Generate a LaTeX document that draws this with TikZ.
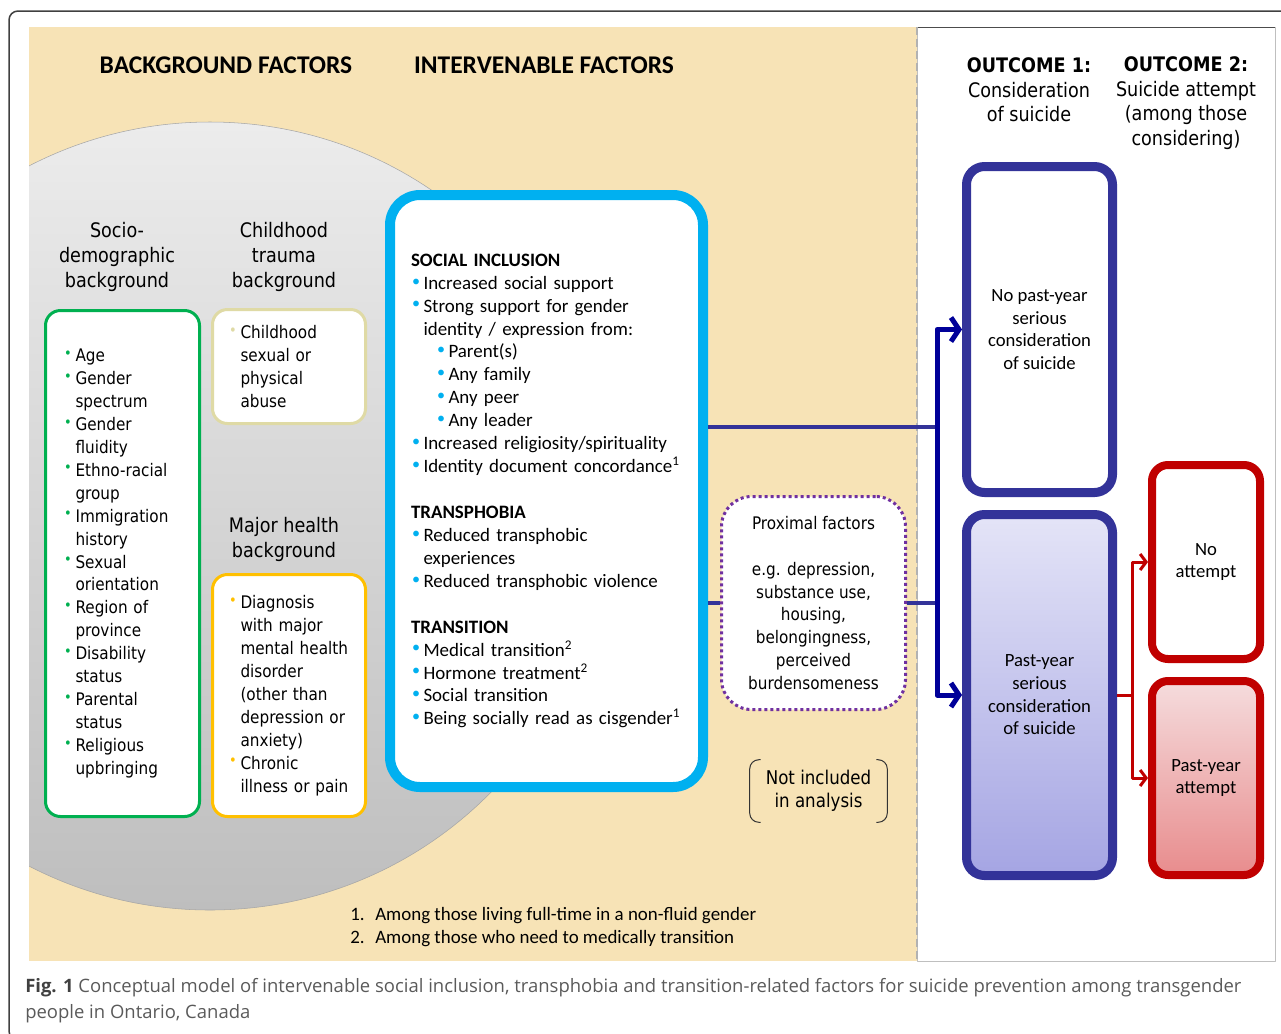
\documentclass[tikz,border=0pt]{standalone}
\usepackage{graphicx}
\usepackage{fontspec}
\setmainfont{Carlito}
\newfontfamily\tahoma[FakeStretch=0.88]{DejaVu Sans}
\newfontfamily\capfont{Open Sans}
\usetikzlibrary{positioning, arrows.meta}

\newdimen\pxu \pxu=0.75pt

\definecolor{beige}{RGB}{247,227,182}
\definecolor{circtop}{RGB}{236,236,236}
\definecolor{circbot}{RGB}{190,190,190}
\definecolor{bggreen}{RGB}{0,176,80}
\definecolor{bgtan}{RGB}{223,218,165}
\definecolor{bgyellow}{RGB}{255,192,0}
\definecolor{ifcyan}{RGB}{0,176,240}
\definecolor{proxpurple}{RGB}{112,48,160}
\definecolor{outnavy}{RGB}{51,51,153}
\definecolor{arrownavy}{RGB}{0,0,153}
\definecolor{outred}{RGB}{192,0,0}
\definecolor{pasttop}{RGB}{228,228,247}
\definecolor{pastbot}{RGB}{165,165,227}
\definecolor{atttop}{RGB}{245,220,221}
\definecolor{attbot}{RGB}{232,140,141}
\definecolor{capgray}{RGB}{90,90,90}

\newcommand\bul[1]{\makebox[12.5\pxu][l]{\hspace*{1\pxu}\textcolor{#1}{\raisebox{0.35ex}{\scalebox{0.85}{\textbullet}}}}}
\newcommand\ind{\hspace*{12.5\pxu}}

\begin{document}
\begin{tikzpicture}[x=0.75pt, y=-0.75pt, line join=round]
        \tikzset{
          heading/.style={font=\fontsize{19.1}{23}\selectfont\bfseries},
          subhead/.style={font=\tahoma\fontsize{15}{18.75}\selectfont, align=center},
          outhead/.style={font=\tahoma\fontsize{15}{18.4}\selectfont, align=center},
          bgbox/.style={draw, rounded corners=15\pxu, line width=3\pxu, fill=white, inner sep=0pt,
            align=left, font=\tahoma\fontsize{13}{17.2}\selectfont},
          ifbox/.style={draw=ifcyan, rounded corners=30\pxu, line width=10\pxu, fill=white, inner sep=0pt,
            align=left, font=\fontsize{14.2}{17.2}\selectfont},
          proxbox/.style={draw=proxpurple, dash pattern=on 3\pxu off 3\pxu, line width=3\pxu,
            rounded corners=30\pxu, fill=white, inner sep=0pt, align=center,
            font=\tahoma\fontsize{13}{17.2}\selectfont},
          outbox/.style={draw=outnavy, line width=9\pxu, rounded corners=18\pxu, fill=white,
            minimum width=146\pxu, align=center, font=\fontsize{14}{17}\selectfont},
          attbox/.style={draw=outred, line width=8\pxu, rounded corners=16\pxu, fill=white,
            minimum width=108\pxu, minimum height=194\pxu, align=center, font=\fontsize{14}{17}\selectfont},
          link/.style={draw=outnavy, line width=4\pxu},
          pointer/.style={draw=arrownavy, line width=5\pxu, -{Straight Barb[length=6pt, width=18pt]}},
          redlink/.style={draw=outred, line width=3\pxu},
          redpointer/.style={redlink, -{Straight Barb[length=4.5pt, width=12pt]}},
          bracket/.style={draw=black!80, line width=1\pxu, rounded corners=9\pxu}
        }
        \useasboundingbox (0,0) rectangle (1281,1033);

        % frame and panels
        \draw[black!75, line width=1.5\pxu, rounded corners=9\pxu] (9,11) rectangle (1310,1040);
        \fill[beige] (29,27) rectangle (917,961);
        \draw[black!25, fill=white] (917,27) rectangle (1275,961);
        \draw[black!70] (917,27) -- (1275,27);
        \begin{scope}
          \clip (29,27) rectangle (917,961);
          \shade[top color=circtop, bottom color=circbot, draw=black!35] (210,516) circle (394);
        \end{scope}
        \draw[black!30, line width=2\pxu, dash pattern=on 8\pxu off 4\pxu] (917,27) -- (917,961);

        % headings
        \node[heading] (bghead) at (226,65) {BACKGROUND FACTORS};
        \node[heading] (ifhead) at (544,65) {INTERVENABLE FACTORS};
        \node[outhead] (out1head) at (1029,90) {\textbf{OUTCOME 1:}\\Consideration\\of suicide};
        \node[outhead] (out2head) at (1186,103) {\textbf{OUTCOME 2:}\\Suicide attempt\\(among those\\considering)};

        % background factors
        \node[subhead] (sociohead) at (117,257) {Socio-\\demographic\\background};
        \node[subhead] (traumahead) at (284,257) {Childhood\\trauma\\background};
        \node[subhead] (healthhead) at (284,539) {Major health\\background};

        \node[bgbox, draw=bggreen, minimum width=154\pxu, minimum height=506\pxu, text width=119\pxu]
          (sociobox) at (122.5,563.5)
          {\bul{bggreen}Age\\ \bul{bggreen}Gender\\ \ind spectrum\\ \bul{bggreen}Gender\\ \ind fluidity\\
           \bul{bggreen}Ethno-racial\\ \ind group\\ \bul{bggreen}Immigration\\ \ind history\\
           \bul{bggreen}Sexual\\ \ind orientation\\ \bul{bggreen}Region of\\ \ind province\\
           \bul{bggreen}Disability\\ \ind status\\ \bul{bggreen}Parental\\ \ind status\\
           \bul{bggreen}Religious\\ \ind upbringing\vphantom{p}};
        \node[bgbox, draw=bgtan, minimum width=153\pxu, minimum height=114\pxu, text width=122\pxu]
          (traumabox) at (289,366.5)
          {\bul{bgtan}Childhood\\ \ind sexual or\\ \ind physical\\ \ind abuse};
        \node[bgbox, draw=bgyellow, minimum width=153\pxu, minimum height=242\pxu, text width=122\pxu]
          (healthbox) at (289,695.5)
          {\bul{bgyellow}Diagnosis\\ \ind with major\\ \ind mental health\\ \ind disorder\\
           \ind (other than\\ \ind depression or\\ \ind anxiety)\\
           \bul{bgyellow}Chronic\\ \ind illness or pain};

        % intervenable factors
        \node[ifbox, minimum width=313\pxu, minimum height=592\pxu, text width=271\pxu]
          (intervene) at (546.5,491)
          {\textbf{SOCIAL INCLUSION}\\
           \bul{ifcyan}Increased social support\\
           \bul{ifcyan}Strong support for gender\\
           \ind identity / expression from:\\
           \hspace*{25\pxu}\bul{ifcyan}Parent(s)\\
           \hspace*{25\pxu}\bul{ifcyan}Any family\\
           \hspace*{25\pxu}\bul{ifcyan}Any peer\\
           \hspace*{25\pxu}\bul{ifcyan}Any leader\\
           \bul{ifcyan}Increased religiosity/spirituality\\
           \bul{ifcyan}Identity document concordance\textsuperscript{1}\\[17.2pt]
           \textbf{TRANSPHOBIA}\\
           \bul{ifcyan}Reduced transphobic\\
           \ind experiences\\
           \bul{ifcyan}Reduced transphobic violence\\[17.2pt]
           \textbf{TRANSITION}\\
           \bul{ifcyan}Medical transition\textsuperscript{2}\\
           \bul{ifcyan}Hormone treatment\textsuperscript{2}\\
           \bul{ifcyan}Social transition\\
           \bul{ifcyan}Being socially read as cisgender\textsuperscript{1}};

        \node[proxbox, minimum width=184\pxu, minimum height=213\pxu] (proximal) at (813.5,603)
          {Proximal factors\\[17.2pt] e.g. depression,\\ substance use,\\ housing,\\ belongingness,\\
           perceived\\ burdensomeness};

        \node[minimum width=137\pxu, minimum height=62\pxu, align=center, inner sep=0pt,
          font=\tahoma\fontsize{14.2}{17.3}\selectfont] (notincl) at (818.5,791)
          {Not included\\in analysis};
        \draw[bracket] ([xshift=11\pxu]notincl.north west) -- (notincl.north west)
          -- (notincl.south west) -- ([xshift=11\pxu]notincl.south west);
        \draw[bracket] ([xshift=-11\pxu]notincl.north east) -- (notincl.north east)
          -- (notincl.south east) -- ([xshift=-11\pxu]notincl.south east);

        % outcomes
        \node[outbox, minimum height=326\pxu] (nopast) at (1039.5,329.5)
          {No past-year\\serious\\consideration\\of suicide};
        \node[outbox, minimum height=361\pxu, top color=pasttop, bottom color=pastbot]
          (past) [below=13\pxu of nopast] {Past-year\\serious\\consideration\\of suicide};
        \node[attbox] (noatt) at (1206,562) {No\\attempt};
        \node[attbox, top color=atttop, bottom color=attbot] (pastatt) [below=14\pxu of noatt]
          {Past-year\\attempt};

        % connectors
        \coordinate (split) at (937,427);
        \coordinate (redsplit) at (1132,695);
        \draw[link] ([yshift=64\pxu]intervene.east) -- (split);
        \draw[link] (intervene.east |- proximal.west) -- (proximal.west);
        \draw[link] (proximal.east) -- (proximal.east -| split);
        \draw[pointer] (split) |- (nopast.west);
        \draw[pointer] (split) |- (past.west);
        \draw[redlink] (past.east) -- (redsplit);
        \draw[redpointer] (redsplit) |- (noatt.west);
        \draw[redpointer] (redsplit) |- (pastatt.west);

        % notes and caption
        \node[anchor=west, align=left, inner sep=0pt, font=\fontsize{14.2}{17.2}\selectfont] (notes)
          at (350,927.5)
          {\makebox[25\pxu][l]{1.}Among those living full-time in a non-fluid gender\\
           \makebox[25\pxu][l]{2.}Among those who need to medically transition};
        \node[anchor=west, align=left, inner sep=0pt, text=capgray,
          font=\capfont\fontsize{13.85}{19.5}\selectfont] (caption) at (25,1001)
          {\textcolor{black!75}{\textbf{Fig. 1}} Conceptual model of intervenable social inclusion, transphobia and transition-related factors for suicide prevention among transgender\\
           people in Ontario, Canada};
\end{tikzpicture}
\end{document}
